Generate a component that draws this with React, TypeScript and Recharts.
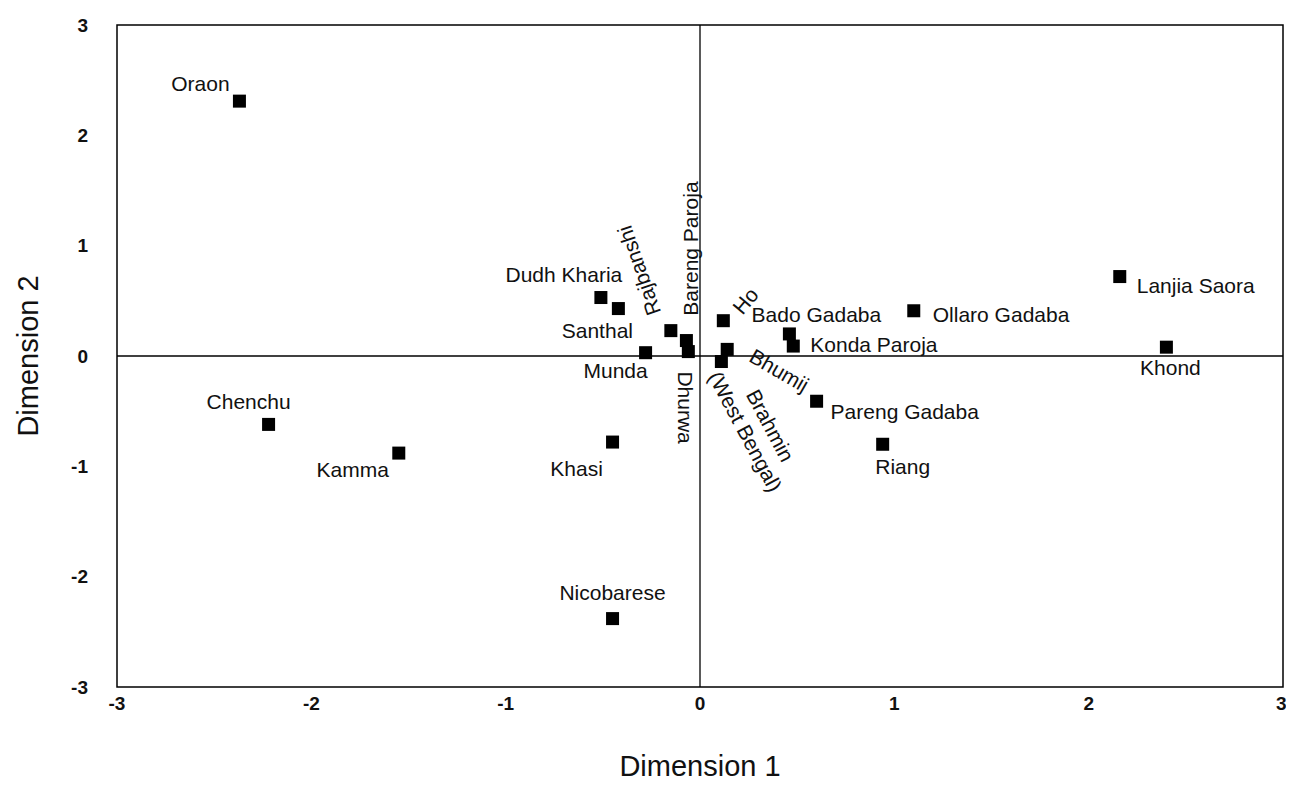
import { ScatterChart, Scatter, XAxis, YAxis, ReferenceLine, ReferenceArea } from "recharts"

// Tribal / caste groups, MDS coordinates
const groups = [
  "Oraon", "Dudh Kharia", "Santhal", "Rajbanshi", "Bareng Paroja", "Dhurwa", "Munda",
  "Ho", "Bhumij", "Brahmin (West Bengal)", "Bado Gadaba", "Konda Paroja", "Ollaro Gadaba",
  "Lanjia Saora", "Khond", "Pareng Gadaba", "Riang", "Chenchu", "Kamma", "Khasi", "Nicobarese",
]
const dim1 = [
  -2.37, -0.51, -0.42, -0.15, -0.07, -0.06, -0.28,
  0.12, 0.14, 0.11, 0.46, 0.48, 1.1,
  2.16, 2.4, 0.6, 0.94, -2.22, -1.55, -0.45, -0.45,
]
const dim2 = [
  2.31, 0.53, 0.43, 0.23, 0.14, 0.04, 0.03,
  0.32, 0.06, -0.05, 0.2, 0.09, 0.41,
  0.72, 0.08, -0.41, -0.8, -0.62, -0.88, -0.78, -2.38,
]
const ticks = [-3, -2, -1, 0, 1, 2, 3]

const data = groups.map((name, i) => ({ name, x: dim1[i], y: dim2[i] }))

// where each label sits relative to its marker
const labelPos = {
  "Oraon": { dx: -39, dy: -18, anchor: "middle" },
  "Dudh Kharia": { dx: -37, dy: -23, anchor: "middle" },
  "Santhal": { dx: -21, dy: 22, anchor: "middle" },
  "Rajbanshi": { dx: -32, dy: -60, anchor: "middle", angle: -109 },
  "Bareng Paroja": { dx: 4, dy: -92, anchor: "middle", angle: -90 },
  "Dhurwa": { dx: -3, dy: 56, anchor: "middle", angle: 90 },
  "Munda": { dx: -30, dy: 18, anchor: "middle" },
  "Ho": { dx: 22, dy: -20, anchor: "middle", angle: -50 },
  "Bhumij": { dx: 52, dy: 21, anchor: "middle", angle: 30 },
  "Bado Gadaba": { dx: 27, dy: -19, anchor: "middle" },
  "Konda Paroja": { dx: 17, dy: -2, anchor: "start" },
  "Ollaro Gadaba": { dx: 19, dy: 4, anchor: "start" },
  "Lanjia Saora": { dx: 17, dy: 9, anchor: "start" },
  "Khond": { dx: 4, dy: 20, anchor: "middle" },
  "Pareng Gadaba": { dx: 14, dy: 10, anchor: "start" },
  "Riang": { dx: 20, dy: 22, anchor: "middle" },
  "Chenchu": { dx: -20, dy: -23, anchor: "middle" },
  "Kamma": { dx: -46, dy: 16, anchor: "middle" },
  "Khasi": { dx: -36, dy: 26, anchor: "middle" },
  "Nicobarese": { dx: 0, dy: -26, anchor: "middle" },
}

const font = "'Liberation Sans', Arial, sans-serif"

function Marker(props) {
  const { cx, cy, payload } = props
  const txt = { fontFamily: font, fontSize: 21, fill: "#111" }
  let label
  if (payload.name === "Brahmin (West Bengal)") {
    label = (
      <g>
        <text x={cx + 49} y={cy + 64} textAnchor="middle" dominantBaseline="central" transform={`rotate(62 ${cx + 49} ${cy + 64})`} {...txt}>Brahmin</text>
        <text x={cx + 24} y={cy + 70} textAnchor="middle" dominantBaseline="central" transform={`rotate(62 ${cx + 24} ${cy + 70})`} {...txt}>(West Bengal)</text>
      </g>
    )
  } else {
    const p = labelPos[payload.name]
    const lx = cx + p.dx
    const ly = cy + p.dy
    label = (
      <text x={lx} y={ly} textAnchor={p.anchor} dominantBaseline="central"
        transform={p.angle ? `rotate(${p.angle} ${lx} ${ly})` : undefined} {...txt}>
        {payload.name}
      </text>
    )
  }
  return (
    <g>
      <rect x={cx - 6.5} y={cy - 6.5} width={13} height={13} fill="#000" />
      {label}
    </g>
  )
}

function YTitle(props) {
  const { viewBox } = props
  const cy = viewBox.y + viewBox.height / 2
  return (
    <text x={20} y={cy} textAnchor="middle" dominantBaseline="central" transform={`rotate(-90 20 ${cy})`}
      style={{ fontFamily: font, fontSize: 29, fill: "#111" }}>
      Dimension 2
    </text>
  )
}

export default function App() {
  return (
    <div style={{ background: "#fff" }}>
      <ScatterChart width={1278} height={777} margin={{ top: 17, right: 3, bottom: 0, left: 0 }}>
        <XAxis type="number" dataKey="x" domain={[-3, 3]} ticks={ticks} allowDataOverflow
          height={98} axisLine={false} tickLine={false} tickMargin={4}
          tick={{ fontFamily: font, fontSize: 19, fontWeight: "bold", fill: "#111" }}
          label={{ value: "Dimension 1", position: "insideBottom", offset: 9, style: { fontFamily: font, fontSize: 29, fill: "#111" } }} />
        <YAxis type="number" dataKey="y" domain={[-3, 3]} ticks={ticks} allowDataOverflow
          width={109} axisLine={false} tickLine={false} tickMargin={23}
          tick={{ fontFamily: font, fontSize: 19, fontWeight: "bold", fill: "#111" }}
          label={<YTitle />} />
        <ReferenceArea x1={-3} x2={3} y1={-3} y2={3} fill="none" stroke="#000" strokeWidth={1.5} fillOpacity={0} />
        <ReferenceLine x={0} stroke="#000" strokeWidth={1.3} />
        <ReferenceLine y={0} stroke="#000" strokeWidth={1.3} />
        <Scatter data={data} shape={<Marker />} isAnimationActive={false} />
      </ScatterChart>
    </div>
  )
}
